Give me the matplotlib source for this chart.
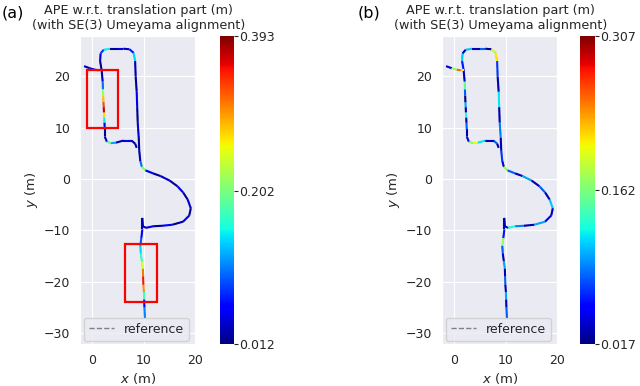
import numpy as np
import matplotlib
matplotlib.use("Agg")
import matplotlib.pyplot as plt
import seaborn as sns
from matplotlib.collections import LineCollection
from matplotlib.patches import Rectangle
from matplotlib.colors import Normalize
from matplotlib.cm import ScalarMappable

# trajectory (m)
traj_x = [8.6, 8.3, 7.6, 6.0, 4.6, 3.6, 2.8, 2.4, 2.4, 2.35, 2.3, 2.25, 2.2, 2.15, 2.1,
          2.05, 2.0, 1.8, 1.5, 1.6, 2.2, 3.5, 5.0, 6.0, 7.2, 8.0, 8.3, 8.4, 8.6, 8.7,
          8.8, 9.0, 9.1, 9.3, 9.6, 10.3, 11.8, 13.2, 15.0, 16.5, 17.6, 18.5, 19.1, 18.8,
          17.6, 15.5, 13.5, 11.8, 10.4, 9.8, 9.7, 9.7, 9.5, 9.3, 9.4, 9.6, 9.8, 9.85,
          9.9, 10.0, 10.05, 10.1, 10.2]
traj_y = [6.1, 6.9, 7.5, 7.5, 7.1, 7.0, 7.3, 8.3, 9.7, 11.0, 12.0, 13.0, 14.0, 15.0, 16.2,
          17.5, 19.0, 21.2, 23.0, 24.5, 25.2, 25.4, 25.4, 25.4, 25.3, 24.6, 23.0, 20.0, 17.0, 14.0,
          11.0, 8.0, 5.5, 3.5, 2.4, 1.7, 1.1, 0.6, -0.3, -1.4, -2.6, -4.0, -5.7, -7.1,
          -8.3, -8.9, -9.1, -9.2, -9.5, -9.2, -7.6, -9.8, -11.5, -13.0, -14.5, -16.0, -17.5, -19.0,
          -20.6, -22.0, -23.5, -25.0, -27.1]
tail_x = [-1.6, -0.5, 0.5, 1.2, 1.8]
tail_y = [22.0, 21.6, 21.3, 21.2, 21.2]

# APE per pose (m)
ape_a = [0.03, 0.02, 0.05, 0.03, 0.12, 0.19, 0.04, 0.02, 0.05, 0.15, 0.27, 0.37, 0.33, 0.28, 0.22,
         0.10, 0.03, 0.02, 0.04, 0.08, 0.15, 0.02, 0.05, 0.03, 0.07, 0.14, 0.03, 0.02, 0.05, 0.02,
         0.04, 0.02, 0.03, 0.10, 0.20, 0.05, 0.02, 0.04, 0.02, 0.05, 0.02, 0.04, 0.02, 0.05,
         0.02, 0.06, 0.02, 0.05, 0.03, 0.02, 0.03, 0.06, 0.09, 0.14, 0.17, 0.24, 0.31, 0.35,
         0.30, 0.18, 0.06, 0.11, 0.13]
ape_b = [0.03, 0.08, 0.03, 0.12, 0.20, 0.17, 0.05, 0.03, 0.08, 0.03, 0.13, 0.03, 0.10, 0.02, 0.08,
         0.15, 0.03, 0.06, 0.11, 0.03, 0.11, 0.03, 0.08, 0.02, 0.19, 0.21, 0.07, 0.03, 0.12, 0.03,
         0.09, 0.03, 0.07, 0.04, 0.17, 0.08, 0.03, 0.10, 0.03, 0.08, 0.03, 0.11, 0.03, 0.05,
         0.10, 0.03, 0.09, 0.13, 0.04, 0.02, 0.03, 0.06, 0.17, 0.08, 0.03, 0.10, 0.03, 0.08,
         0.03, 0.10, 0.03, 0.08, 0.12]
tail_ape_a = [0.03, 0.05, 0.02, 0.03, 0.03]
tail_ape_b = [0.04, 0.17, 0.25, 0.21, 0.08]

ape_min = [0.012, 0.017]
ape_max = [0.393, 0.307]
cb_ticks = [[0.012, 0.202, 0.393], [0.017, 0.162, 0.307]]
panel_labels = ["(a)", "(b)"]

# highlighted regions in panel (a): x0, y0, w, h
boxes_a = [(-1.0, 9.9, 6.0, 11.3), (6.3, -24.0, 6.3, 11.3)]

sns.set_style("darkgrid")
plt.rcParams['font.family'] = ['DejaVu Sans']
txt = '#262626'


def segs(xs, ys):
    pts = np.column_stack([xs, ys])
    return np.stack([pts[:-1], pts[1:]], axis=1)


fig = plt.figure(figsize=(6.4, 3.86), dpi=100)
ax_lefts = [0.125, 0.6906]
cb_lefts = [0.343, 0.907]
apes = [(ape_a, tail_ape_a), (ape_b, tail_ape_b)]

for i in range(2):
    ax = fig.add_axes([ax_lefts[i], 0.108, 0.182, 0.799])
    cax = fig.add_axes([cb_lefts[i], 0.108, 0.022, 0.799])
    norm = Normalize(vmin=ape_min[i], vmax=ape_max[i])

    ax.plot(traj_x, traj_y, '--', color='grey', lw=1, label='reference')
    ax.plot(tail_x, tail_y, '--', color='grey', lw=1)

    main_err, tail_err = apes[i]
    for xs, ys, err in [(traj_x, traj_y, main_err), (tail_x, tail_y, tail_err)]:
        lc = LineCollection(segs(xs, ys), cmap='jet', norm=norm, linewidths=1.5)
        lc.set_array(np.array(err[:-1]))
        ax.add_collection(lc)

    if i == 0:
        for (x0, y0, w, h) in boxes_a:
            ax.add_patch(Rectangle((x0, y0), w, h, fill=False, edgecolor='red', lw=1.6, zorder=5))

    ax.set_xlim(-2.4, 20.2)
    ax.set_ylim(-32.2, 27.9)
    ax.set_xticks([0, 10, 20])
    ax.set_yticks([-30, -20, -10, 0, 10, 20])
    ax.tick_params(length=0, pad=7, labelsize=9, labelcolor=txt)
    ax.set_xlabel('$x$ (m)', fontsize=9.5, color=txt, labelpad=3)
    ax.set_ylabel('$y$ (m)', fontsize=9.5, color=txt, labelpad=3)
    ax.set_title('APE w.r.t. translation part (m)\n(with SE(3) Umeyama alignment)',
                 fontsize=9.2, color=txt, pad=5)
    ax.legend(loc='lower left', fontsize=9, frameon=True, borderaxespad=0.3)

    sm = ScalarMappable(norm=norm, cmap='jet')
    cb = fig.colorbar(sm, cax=cax)
    cb.set_ticks(cb_ticks[i])
    cb.set_ticklabels([f"{v:.3f}" for v in cb_ticks[i]])
    cb.outline.set_visible(False)
    cax.tick_params(length=3, width=0.8, pad=1, labelsize=9, labelcolor=txt, color=txt, right=True)

    fig.text(0.003 if i == 0 else 0.559, 0.955, panel_labels[i], fontsize=11.5, color='black')

fig.savefig('out.png', dpi=100)
